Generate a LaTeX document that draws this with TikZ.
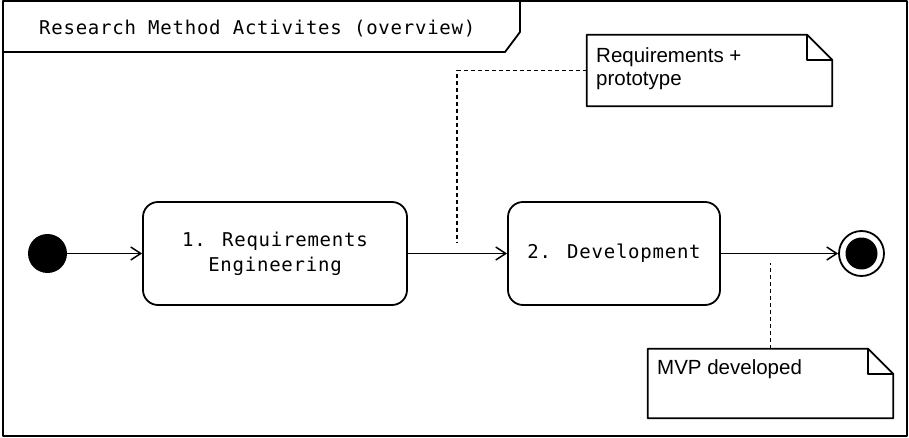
\documentclass[tikz,border=0pt]{standalone}
\usepackage{fontspec}
\setmainfont{Liberation Sans}
\newfontfamily\monofont[LetterSpace=4]{DejaVu Sans Mono}
\usetikzlibrary{arrows.meta}

\begin{document}
\begin{tikzpicture}[x=1pt, y=-1pt, line join=round,
  activity/.style={draw, rounded corners=15pt, line width=1.8pt, minimum height=103pt,
                   align=center, font=\monofont\fontsize{19}{25}\selectfont},
  flow/.style={-{Straight Barb[length=10pt,width=13pt]}, line width=1.5pt},
  notebox/.style={minimum width=245pt, inner sep=0pt},
  notetext/.style={anchor=north west, inner sep=0pt, align=left,
                   font=\fontsize{20.5}{23.5}\selectfont},
  notelink/.style={dash pattern=on 4pt off 3pt, line width=1.5pt}]

\useasboundingbox (0,0) rectangle (909,438);

% --- Frame with title tab ---
\draw[line width=2pt] (2.5,1) rectangle (907,436);
\draw[line width=1.8pt] (2.5,52) -- (505,52) -- (520,32) -- (520,1);
\node[anchor=base west, inner sep=0pt, font=\monofont\fontsize{19}{21}\selectfont]
  (title) at (39,35) {Research Method Activites (overview)};

% --- Initial and final nodes ---
\node[circle, fill=black, minimum size=39pt, inner sep=0pt] (start) at (47.5,253.5) {};
\node[circle, draw, line width=1.8pt, minimum size=45pt, inner sep=0pt] (stop) at (861.5,253.5) {};
\fill[black] (stop.center) circle (16pt);

% --- Activities ---
\node[activity, minimum width=264pt] (reqeng) at (275,253.5) {1. Requirements\\Engineering};
\node[activity, minimum width=212pt] (devel) at (614,253.5) {2. Development};

% --- Control flow ---
\draw[flow] (start) -- (reqeng);
\draw[flow] (reqeng) -- (devel);
\draw[flow] (devel) -- (stop);

% --- Notes (dog-eared) ---
\def\ear{25pt}
\node[notebox, minimum height=71pt] (reqnote) at (709.5,70.5) {};
\draw[line width=1.8pt] (reqnote.north west) -- ([xshift=-\ear]reqnote.north east)
  -- ([yshift=-\ear]reqnote.north east) -- (reqnote.south east) -- (reqnote.south west) -- cycle;
\draw[line width=1.5pt] ([xshift=-\ear]reqnote.north east) -- ([xshift=-\ear,yshift=-\ear]reqnote.north east)
  -- ([yshift=-\ear]reqnote.north east);
\node[notetext] (reqtext) at (596,47) {Requirements +\\prototype};

\node[notebox, minimum height=69pt] (mvpnote) at (770.5,383.5) {};
\draw[line width=1.8pt] (mvpnote.north west) -- ([xshift=-\ear]mvpnote.north east)
  -- ([yshift=-\ear]mvpnote.north east) -- (mvpnote.south east) -- (mvpnote.south west) -- cycle;
\draw[line width=1.5pt] ([xshift=-\ear]mvpnote.north east) -- ([xshift=-\ear,yshift=-\ear]mvpnote.north east)
  -- ([yshift=-\ear]mvpnote.north east);
\node[notetext] (mvptext) at (657,359.5) {MVP developed};

% --- Note anchors on the flows ---
\coordinate (reqpin) at (457,243);
\coordinate (mvppin) at (770.5,263);
\draw[notelink] (reqnote.west) -| (reqpin);
\draw[notelink] (mvpnote.north) -- (mvppin);

\end{tikzpicture}
\end{document}
